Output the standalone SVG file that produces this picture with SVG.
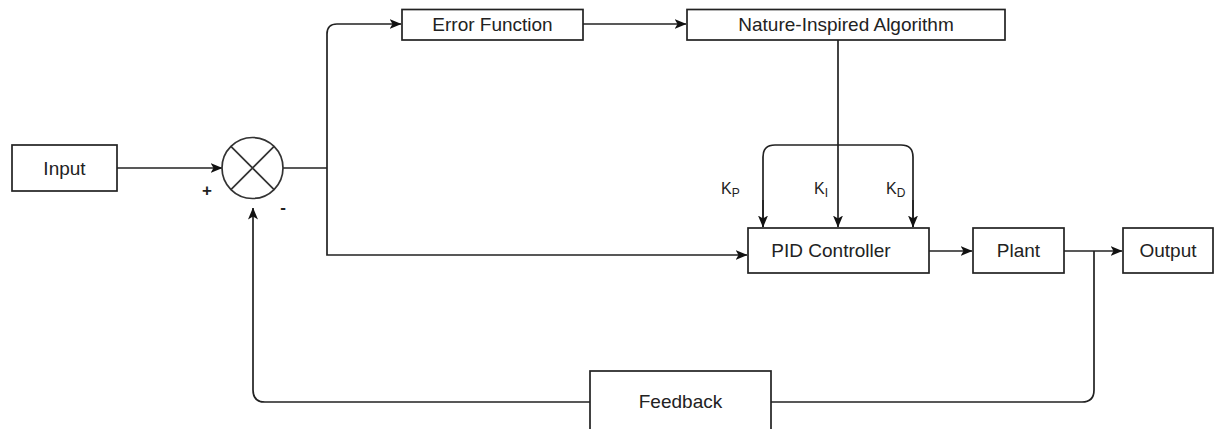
<svg xmlns="http://www.w3.org/2000/svg" width="1217" height="429" viewBox="0 0 1217 429">
  <style>
    .box { fill: #ffffff; stroke: #222222; stroke-width: 1.7; }
    .wire { fill: none; stroke: #222222; stroke-width: 1.7; }
    .lbl { font-family: "Liberation Sans", Arial, sans-serif; font-size: 19px; fill: #222222; text-anchor: middle; dominant-baseline: central; }
    .gain { font-family: "Liberation Sans", Arial, sans-serif; font-size: 16px; fill: #222222; }
    .sub { font-size: 12px; }
    .sign { font-family: "Liberation Sans", Arial, sans-serif; font-size: 17px; fill: #222222; font-weight: bold; }
  </style>
  <defs>
    <marker id="arrow" viewBox="0 0 12 10" refX="11.5" refY="5" markerWidth="12" markerHeight="10" markerUnits="userSpaceOnUse" orient="auto">
      <path d="M0,0 L12,5 L0,10 L3,5 Z" fill="#111111"/>
    </marker>
  </defs>

  <rect width="1217" height="429" fill="#ffffff"/>

  <!-- connectors -->
  <g id="connectors">
    <!-- input to summing junction -->
    <path class="wire" d="M117,168 H222" marker-end="url(#arrow)"/>
    <!-- junction output splits up to error function and down to PID -->
    <path class="wire" d="M283,168 H327"/>
    <path class="wire" d="M327,168 V34 Q327,24 337,24 H401" marker-end="url(#arrow)"/>
    <path class="wire" d="M327,168 V255 H747" marker-end="url(#arrow)"/>
    <!-- error function to optimiser -->
    <path class="wire" d="M583,24 H686" marker-end="url(#arrow)"/>
    <!-- optimiser gains into PID -->
    <path class="wire" d="M838,40 V227" marker-end="url(#arrow)"/>
    <path class="wire" d="M763,227 V157 Q763,145 775,145 H901 Q913,145 913,157 V227" />
    <path class="wire" d="M763,200 V227" marker-end="url(#arrow)"/>
    <path class="wire" d="M913,200 V227" marker-end="url(#arrow)"/>
    <!-- forward path -->
    <path class="wire" d="M929,251 H972" marker-end="url(#arrow)"/>
    <path class="wire" d="M1064,251 H1122" marker-end="url(#arrow)"/>
    <!-- feedback loop -->
    <path class="wire" d="M1094,251 V390 Q1094,402 1082,402 H771"/>
    <path class="wire" d="M590,402 H265 Q253,402 253,390 V208" marker-end="url(#arrow)"/>
  </g>

  <g id="input">
    <rect class="box" x="12" y="145" width="105" height="46"/>
    <text class="lbl" x="64.5" y="168">Input</text>
  </g>

  <g id="sum">
    <circle cx="252.5" cy="168" r="30.5" fill="#ffffff" stroke="#333333" stroke-width="1.7"/>
    <path d="M230.9,146.4 L274.1,189.6 M274.1,146.4 L230.9,189.6" stroke="#333333" stroke-width="1.7"/>
    <text class="sign" x="207" y="196" text-anchor="middle">+</text>
    <text class="sign" x="283" y="213" text-anchor="middle">-</text>
  </g>

  <g id="error-function">
    <rect class="box" x="402" y="9.5" width="181" height="30.5"/>
    <text class="lbl" x="492.5" y="24">Error Function</text>
  </g>

  <g id="nature-inspired">
    <rect class="box" x="687" y="9.5" width="318" height="30.5"/>
    <text class="lbl" x="846" y="24">Nature-Inspired Algorithm</text>
  </g>

  <g id="gains">
    <text class="gain" x="721" y="194">K<tspan class="sub" dy="3">P</tspan></text>
    <text class="gain" x="814" y="194">K<tspan class="sub" dy="3">I</tspan></text>
    <text class="gain" x="886" y="194">K<tspan class="sub" dy="3">D</tspan></text>
  </g>

  <g id="pid-controller">
    <rect class="box" x="748" y="228" width="181" height="45"/>
    <text class="lbl" x="831" y="250.5">PID Controller</text>
  </g>

  <g id="plant">
    <rect class="box" x="973" y="228" width="91" height="45"/>
    <text class="lbl" x="1018.5" y="250.5">Plant</text>
  </g>

  <g id="output">
    <rect class="box" x="1123" y="228" width="90" height="45"/>
    <text class="lbl" x="1168" y="250.5">Output</text>
  </g>

  <g id="feedback">
    <rect class="box" x="590" y="371" width="181" height="66"/>
    <text class="lbl" x="680.5" y="401">Feedback</text>
  </g>
</svg>
